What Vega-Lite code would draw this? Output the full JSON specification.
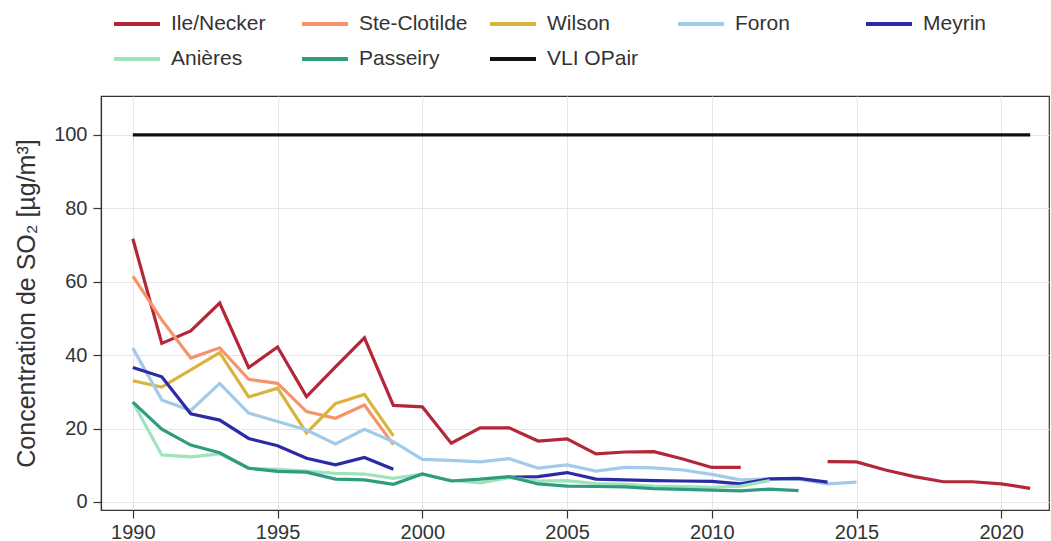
{
  "$schema": "https://vega.github.io/schema/vega-lite/v6.json",
  "width": 948,
  "height": 414,
  "autosize": {"type": "none"},
  "padding": {"left": 101, "top": 96, "right": 2, "bottom": 31},
  "config": {
    "font": "Liberation Sans",
    "view": {"stroke": "#333333", "strokeWidth": 1.2},
    "axis": {
      "domainColor": "#333333",
      "domainWidth": 1.2,
      "tickColor": "#333333",
      "tickSize": 8,
      "tickWidth": 1.2,
      "gridColor": "#e6e6e6",
      "gridWidth": 1,
      "labelColor": "#333333",
      "labelFontSize": 20,
      "titleColor": "#333333",
      "titleFontSize": 25,
      "titleFontWeight": "normal"
    }
  },
  "data": {
    "values": [
      {"station": "Ile/Necker", "year": 1990, "value": 71.7},
      {"station": "Ile/Necker", "year": 1991, "value": 43.2},
      {"station": "Ile/Necker", "year": 1992, "value": 46.6},
      {"station": "Ile/Necker", "year": 1993, "value": 54.2},
      {"station": "Ile/Necker", "year": 1994, "value": 36.6},
      {"station": "Ile/Necker", "year": 1995, "value": 42.2},
      {"station": "Ile/Necker", "year": 1996, "value": 28.7},
      {"station": "Ile/Necker", "year": 1997, "value": 36.8},
      {"station": "Ile/Necker", "year": 1998, "value": 44.7},
      {"station": "Ile/Necker", "year": 1999, "value": 26.3},
      {"station": "Ile/Necker", "year": 2000, "value": 25.9},
      {"station": "Ile/Necker", "year": 2001, "value": 16.0},
      {"station": "Ile/Necker", "year": 2002, "value": 20.2},
      {"station": "Ile/Necker", "year": 2003, "value": 20.2},
      {"station": "Ile/Necker", "year": 2004, "value": 16.6},
      {"station": "Ile/Necker", "year": 2005, "value": 17.2},
      {"station": "Ile/Necker", "year": 2006, "value": 13.1},
      {"station": "Ile/Necker", "year": 2007, "value": 13.6},
      {"station": "Ile/Necker", "year": 2008, "value": 13.7},
      {"station": "Ile/Necker", "year": 2009, "value": 11.7},
      {"station": "Ile/Necker", "year": 2010, "value": 9.4},
      {"station": "Ile/Necker", "year": 2011, "value": 9.4},
      {"station": "Ile/Necker", "year": 2012, "value": null},
      {"station": "Ile/Necker", "year": 2014, "value": 11.0},
      {"station": "Ile/Necker", "year": 2015, "value": 10.9},
      {"station": "Ile/Necker", "year": 2016, "value": 8.7},
      {"station": "Ile/Necker", "year": 2017, "value": 6.9},
      {"station": "Ile/Necker", "year": 2018, "value": 5.5},
      {"station": "Ile/Necker", "year": 2019, "value": 5.5},
      {"station": "Ile/Necker", "year": 2020, "value": 4.9},
      {"station": "Ile/Necker", "year": 2021, "value": 3.7},

      {"station": "Ste-Clotilde", "year": 1990, "value": 61.5},
      {"station": "Ste-Clotilde", "year": 1991, "value": 49.6},
      {"station": "Ste-Clotilde", "year": 1992, "value": 39.2},
      {"station": "Ste-Clotilde", "year": 1993, "value": 42.0},
      {"station": "Ste-Clotilde", "year": 1994, "value": 33.4},
      {"station": "Ste-Clotilde", "year": 1995, "value": 32.3},
      {"station": "Ste-Clotilde", "year": 1996, "value": 24.6},
      {"station": "Ste-Clotilde", "year": 1997, "value": 22.8},
      {"station": "Ste-Clotilde", "year": 1998, "value": 26.4},
      {"station": "Ste-Clotilde", "year": 1999, "value": 15.6},

      {"station": "Wilson", "year": 1990, "value": 33.0},
      {"station": "Wilson", "year": 1991, "value": 31.3},
      {"station": "Wilson", "year": 1992, "value": 36.0},
      {"station": "Wilson", "year": 1993, "value": 40.7},
      {"station": "Wilson", "year": 1994, "value": 28.6},
      {"station": "Wilson", "year": 1995, "value": 31.0},
      {"station": "Wilson", "year": 1996, "value": 18.8},
      {"station": "Wilson", "year": 1997, "value": 26.8},
      {"station": "Wilson", "year": 1998, "value": 29.3},
      {"station": "Wilson", "year": 1999, "value": 18.0},

      {"station": "Foron", "year": 1990, "value": 41.9},
      {"station": "Foron", "year": 1991, "value": 27.8},
      {"station": "Foron", "year": 1992, "value": 24.9},
      {"station": "Foron", "year": 1993, "value": 32.3},
      {"station": "Foron", "year": 1994, "value": 24.2},
      {"station": "Foron", "year": 1995, "value": 21.9},
      {"station": "Foron", "year": 1996, "value": 19.6},
      {"station": "Foron", "year": 1997, "value": 15.8},
      {"station": "Foron", "year": 1998, "value": 19.8},
      {"station": "Foron", "year": 1999, "value": 16.4},
      {"station": "Foron", "year": 2000, "value": 11.6},
      {"station": "Foron", "year": 2001, "value": 11.3},
      {"station": "Foron", "year": 2002, "value": 10.9},
      {"station": "Foron", "year": 2003, "value": 11.8},
      {"station": "Foron", "year": 2004, "value": 9.2},
      {"station": "Foron", "year": 2005, "value": 10.1},
      {"station": "Foron", "year": 2006, "value": 8.4},
      {"station": "Foron", "year": 2007, "value": 9.4},
      {"station": "Foron", "year": 2008, "value": 9.3},
      {"station": "Foron", "year": 2009, "value": 8.7},
      {"station": "Foron", "year": 2010, "value": 7.5},
      {"station": "Foron", "year": 2011, "value": 6.0},
      {"station": "Foron", "year": 2012, "value": 6.3},
      {"station": "Foron", "year": 2013, "value": 6.2},
      {"station": "Foron", "year": 2014, "value": 4.9},
      {"station": "Foron", "year": 2015, "value": 5.4},

      {"station": "Meyrin", "year": 1990, "value": 36.6},
      {"station": "Meyrin", "year": 1991, "value": 34.1},
      {"station": "Meyrin", "year": 1992, "value": 24.0},
      {"station": "Meyrin", "year": 1993, "value": 22.3},
      {"station": "Meyrin", "year": 1994, "value": 17.3},
      {"station": "Meyrin", "year": 1995, "value": 15.3},
      {"station": "Meyrin", "year": 1996, "value": 11.9},
      {"station": "Meyrin", "year": 1997, "value": 10.1},
      {"station": "Meyrin", "year": 1998, "value": 12.1},
      {"station": "Meyrin", "year": 1999, "value": 8.9},
      {"station": "Meyrin", "year": 2000, "value": null},
      {"station": "Meyrin", "year": 2003, "value": 6.7},
      {"station": "Meyrin", "year": 2004, "value": 6.9},
      {"station": "Meyrin", "year": 2005, "value": 8.0},
      {"station": "Meyrin", "year": 2006, "value": 6.2},
      {"station": "Meyrin", "year": 2007, "value": 6.0},
      {"station": "Meyrin", "year": 2008, "value": 5.8},
      {"station": "Meyrin", "year": 2009, "value": 5.7},
      {"station": "Meyrin", "year": 2010, "value": 5.6},
      {"station": "Meyrin", "year": 2011, "value": 4.9},
      {"station": "Meyrin", "year": 2012, "value": 6.3},
      {"station": "Meyrin", "year": 2013, "value": 6.4},
      {"station": "Meyrin", "year": 2014, "value": 5.4},

      {"station": "Anières", "year": 1990, "value": 27.2},
      {"station": "Anières", "year": 1991, "value": 12.8},
      {"station": "Anières", "year": 1992, "value": 12.3},
      {"station": "Anières", "year": 1993, "value": 13.1},
      {"station": "Anières", "year": 1994, "value": 9.1},
      {"station": "Anières", "year": 1995, "value": 8.9},
      {"station": "Anières", "year": 1996, "value": 8.4},
      {"station": "Anières", "year": 1997, "value": 7.8},
      {"station": "Anières", "year": 1998, "value": 7.6},
      {"station": "Anières", "year": 1999, "value": 6.4},
      {"station": "Anières", "year": 2000, "value": 7.6},
      {"station": "Anières", "year": 2001, "value": 5.9},
      {"station": "Anières", "year": 2002, "value": 5.2},
      {"station": "Anières", "year": 2003, "value": 6.6},
      {"station": "Anières", "year": 2004, "value": 5.7},
      {"station": "Anières", "year": 2005, "value": 5.8},
      {"station": "Anières", "year": 2006, "value": 5.0},
      {"station": "Anières", "year": 2007, "value": 4.8},
      {"station": "Anières", "year": 2008, "value": 4.3},
      {"station": "Anières", "year": 2009, "value": 4.2},
      {"station": "Anières", "year": 2010, "value": 4.0},
      {"station": "Anières", "year": 2011, "value": 4.3},
      {"station": "Anières", "year": 2012, "value": 5.8},

      {"station": "Passeiry", "year": 1990, "value": 27.2},
      {"station": "Passeiry", "year": 1991, "value": 19.8},
      {"station": "Passeiry", "year": 1992, "value": 15.5},
      {"station": "Passeiry", "year": 1993, "value": 13.4},
      {"station": "Passeiry", "year": 1994, "value": 9.2},
      {"station": "Passeiry", "year": 1995, "value": 8.3},
      {"station": "Passeiry", "year": 1996, "value": 8.1},
      {"station": "Passeiry", "year": 1997, "value": 6.2},
      {"station": "Passeiry", "year": 1998, "value": 6.0},
      {"station": "Passeiry", "year": 1999, "value": 4.8},
      {"station": "Passeiry", "year": 2000, "value": 7.6},
      {"station": "Passeiry", "year": 2001, "value": 5.7},
      {"station": "Passeiry", "year": 2002, "value": 6.2},
      {"station": "Passeiry", "year": 2003, "value": 6.9},
      {"station": "Passeiry", "year": 2004, "value": 4.9},
      {"station": "Passeiry", "year": 2005, "value": 4.3},
      {"station": "Passeiry", "year": 2006, "value": 4.2},
      {"station": "Passeiry", "year": 2007, "value": 4.1},
      {"station": "Passeiry", "year": 2008, "value": 3.6},
      {"station": "Passeiry", "year": 2009, "value": 3.4},
      {"station": "Passeiry", "year": 2010, "value": 3.2},
      {"station": "Passeiry", "year": 2011, "value": 3.0},
      {"station": "Passeiry", "year": 2012, "value": 3.5},
      {"station": "Passeiry", "year": 2013, "value": 3.1},

      {"station": "VLI OPair", "year": 1990, "value": 100},
      {"station": "VLI OPair", "year": 2021, "value": 100}
    ]
  },
  "mark": {"type": "line", "strokeWidth": 3.2, "invalid": "break-paths-show-domains"},
  "encoding": {
    "x": {
      "field": "year",
      "type": "quantitative",
      "scale": {"domain": [1988.9, 2021.65], "nice": false, "zero": false},
      "axis": {
        "title": null,
        "values": [1990, 1995, 2000, 2005, 2010, 2015, 2020],
        "format": "d",
        "labelPadding": 4,
        "labelFlush": false
      }
    },
    "y": {
      "field": "value",
      "type": "quantitative",
      "scale": {"domain": [-2.2, 110.6], "nice": false, "zero": false},
      "axis": {
        "title": "Concentration de SO₂ [µg/m³]",
        "values": [0, 20, 40, 60, 80, 100],
        "labelPadding": 6,
        "titlePadding": 14,
        "labelFlush": false
      }
    },
    "color": {
      "field": "station",
      "type": "nominal",
      "sort": null,
      "scale": {
        "domain": ["Ile/Necker", "Meyrin", "Ste-Clotilde", "Anières", "Wilson", "Passeiry", "Foron", "VLI OPair"],
        "range": ["#b32738", "#2c2ba3", "#f7936b", "#9fe3bd", "#d9b33c", "#2f9c80", "#a2cbea", "#111111"]
      },
      "legend": {
        "title": null,
        "orient": "none",
        "legendX": 11,
        "legendY": -97,
        "columns": 5,
        "gridAlign": "all",
        "symbolType": "stroke",
        "symbolSize": 2116,
        "symbolStrokeWidth": 4,
        "labelFontSize": 21,
        "labelColor": "#333333",
        "labelOffset": 9,
        "columnPadding": 14,
        "rowPadding": -10,
        "labelLimit": 200
      }
    }
  }
}
